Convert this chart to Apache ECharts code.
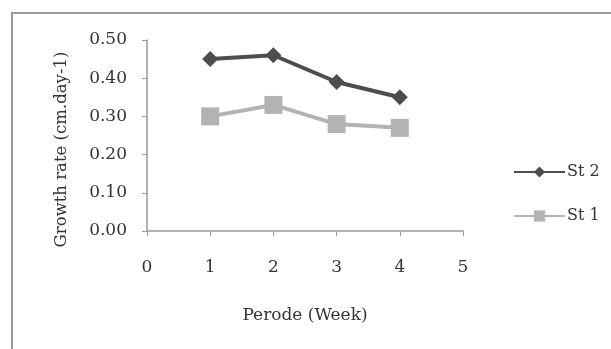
<!DOCTYPE html>
<html><head><meta charset="utf-8">
<script src="https://cdn.jsdelivr.net/npm/echarts@6/dist/echarts.min.js"></script>
<style>html,body{margin:0;padding:0;background:#fff}#c{width:611px;height:349px}</style>
</head><body><div id="c"></div>
<script>
const weeks = [1, 2, 3, 4];
const st2 = [0.45, 0.46, 0.39, 0.35];
const st1 = [0.30, 0.33, 0.28, 0.27];
const seriesNames = ['St 2', 'St 1'];
const font = 'DejaVu Serif';
const chart = echarts.init(document.getElementById('c'));
chart.setOption({
  animation: false,
  backgroundColor: '#fff',
  graphic: [{
    type: 'rect', shape: {x: 12, y: 13, width: 620, height: 360},
    style: {fill: 'none', stroke: '#999', lineWidth: 2}
  }],
  grid: {left: 147, top: 40, width: 316, height: 191},
  legend: {
    orient: 'vertical', left: 508, top: 159, itemGap: 28,
    itemWidth: 51, itemHeight: 14,
    textStyle: {fontFamily: font, fontSize: 16, color: '#333', padding: [0,0,0,-3]},
    data: seriesNames
  },
  xAxis: {
    type: 'value', min: 0, max: 5, interval: 1,
    name: 'Perode (Week)', nameLocation: 'middle', nameGap: 76,
    nameTextStyle: {fontFamily: font, fontSize: 17, color: '#333'},
    axisLine: {lineStyle: {color: '#999', width: 1.5}},
    axisTick: {show: true, length: 5, inside: false, lineStyle: {color: '#999'}},
    axisLabel: {fontFamily: font, fontSize: 17, color: '#333', margin: 28},
    splitLine: {show: false}
  },
  yAxis: {
    type: 'value', min: 0, max: 0.5, interval: 0.1,
    name: 'Growth rate (cm.day-1)', nameLocation: 'middle', nameGap: 77,
    nameTextStyle: {fontFamily: font, fontSize: 16.5, color: '#333', padding: [0, 28, 0, 0]},
    axisLine: {show: true, lineStyle: {color: '#999', width: 1.5}},
    axisTick: {show: true, length: 5, lineStyle: {color: '#999'}},
    axisLabel: {fontFamily: font, fontSize: 17, color: '#333', margin: 20,
      formatter: v => v.toFixed(2)},
    splitLine: {show: false}
  },
  series: [
    {name: seriesNames[0], type: 'line', data: weeks.map((w,i)=>[w, st2[i]]),
     symbol: 'diamond', symbolSize: 16, color: '#4d4d4d',
     lineStyle: {width: 4, color: '#4d4d4d'}, itemStyle: {color: '#4d4d4d'}},
    {name: seriesNames[1], type: 'line', data: weeks.map((w,i)=>[w, st1[i]]),
     symbol: 'rect', symbolSize: 18, color: '#b3b3b3',
     lineStyle: {width: 4, color: '#b3b3b3'}, itemStyle: {color: '#b3b3b3'}}
  ]
});
</script></body></html>
